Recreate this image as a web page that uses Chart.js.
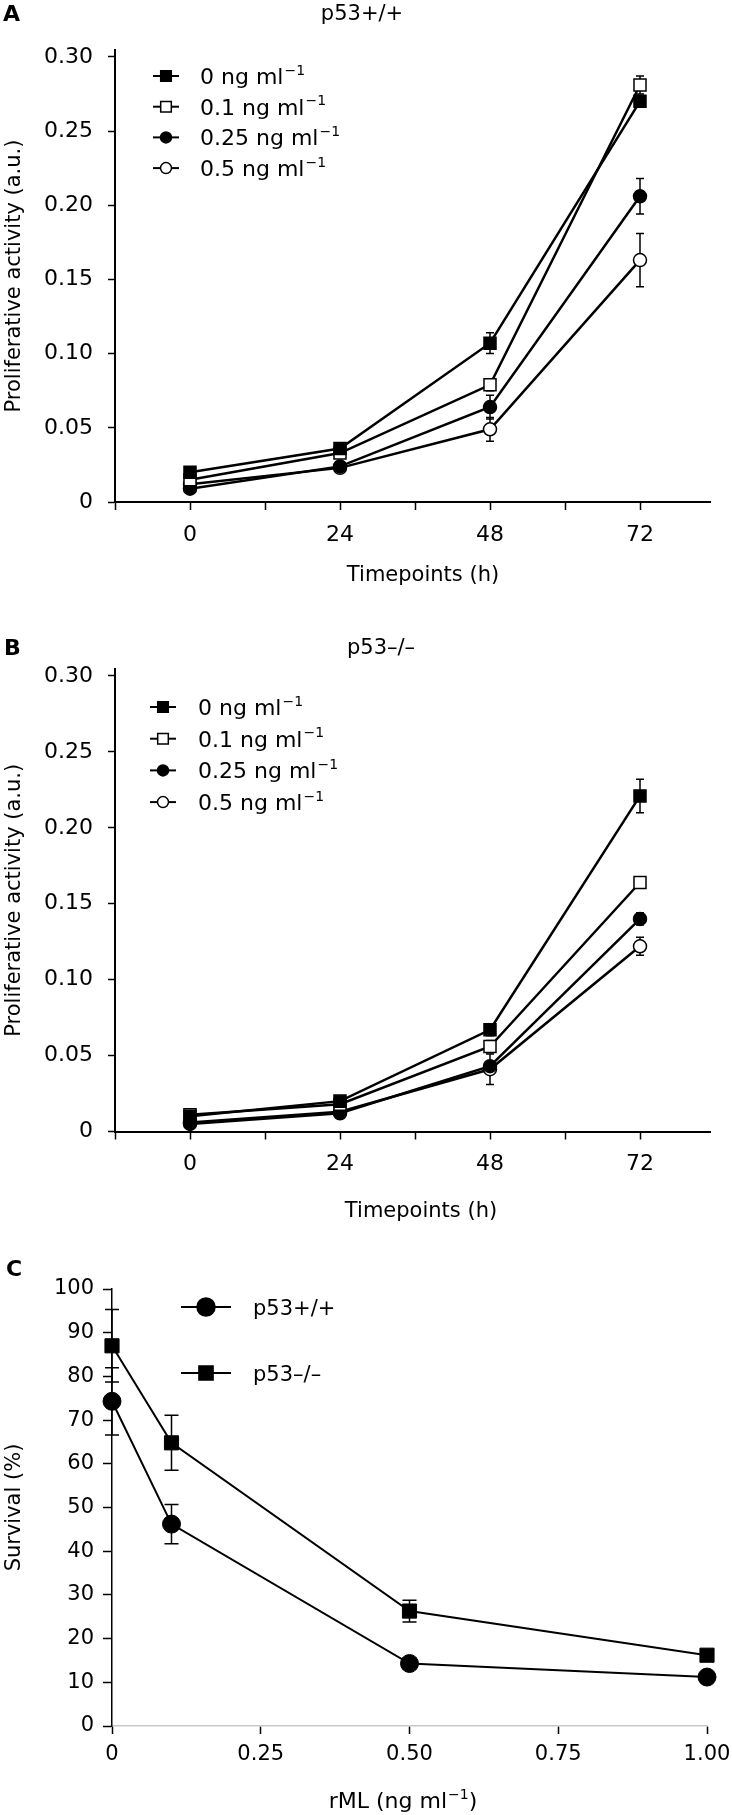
<!DOCTYPE html>
<html>
<head>
<meta charset="utf-8">
<script src="https://cdn.jsdelivr.net/npm/chart.js@4.4.1/dist/chart.umd.min.js"></script>
<style>
  html, body { margin: 0; padding: 0; background: #fff; }
  body { width: 732px; height: 1815px; position: relative; overflow: hidden; }
  canvas { position: absolute; left: 0; }
</style>
</head>
<body>
<canvas id="chartA" width="732" height="600" style="top:0px"></canvas>
<canvas id="chartB" width="732" height="640" style="top:600px"></canvas>
<canvas id="chartC" width="732" height="575" style="top:1240px"></canvas>
<script>
const FONT = "'DejaVu Sans', 'Liberation Sans', Arial, sans-serif";

// ---- panels A and B: proliferation over time ----
const timepoints = [0, 24, 48, 72];
const timeTicks = [-12, 0, 12, 24, 36, 48, 60, 72];
const timeLabels = [0, 24, 48, 72];
const doses = ['0', '0.1', '0.25', '0.5'];
const activityTicks = [0, 0.05, 0.1, 0.15, 0.2, 0.25, 0.3];
const activityLabels = ['0', '0.05', '0.10', '0.15', '0.20', '0.25', '0.30'];

// p53+/+
const wtDose0 = [0.020, 0.036, 0.107, 0.270];
const wtDose01 = [0.015, 0.033, 0.079, 0.281];
const wtDose025 = [0.009, 0.024, 0.064, 0.206];
const wtDose05 = [0.012, 0.023, 0.049, 0.163];
const wtErr0 = [0.002, 0.002, 0.007, 0.004];
const wtErr01 = [0.002, 0.002, 0.004, 0.006];
const wtErr025 = [0.001, 0.002, 0.008, 0.012];
const wtErr05 = [0.002, 0.002, 0.008, 0.018];

// p53-/-
const nullDose0 = [0.010, 0.020, 0.067, 0.221];
const nullDose01 = [0.011, 0.018, 0.056, 0.164];
const nullDose025 = [0.005, 0.012, 0.043, 0.140];
const nullDose05 = [0.006, 0.013, 0.041, 0.122];
const nullErr0 = [0.001, 0.002, 0.004, 0.011];
const nullErr01 = [0.001, 0.001, 0.004, 0.003];
const nullErr025 = [0.001, 0.001, 0.003, 0.004];
const nullErr05 = [0.001, 0.002, 0.010, 0.006];

// ---- panel C: survival vs rML ----
const rmlDoses = [0, 0.1, 0.5, 1.0];
const rmlTicks = [0, 0.25, 0.5, 0.75, 1.0];
const rmlLabels = ['0', '0.25', '0.50', '0.75', '1.00'];
const survivalTicks = [0, 10, 20, 30, 40, 50, 60, 70, 80, 90, 100];
const survivalWt = [74.3, 46.2, 14.3, 11.2];
const survivalWtErr = [7.7, 4.5, 1.2, 1.0];
const survivalNull = [87.0, 64.8, 26.3, 16.2];
const survivalNullErr = [8.3, 6.3, 2.5, 1.2];

const markerStyle = ['rect', 'rect', 'circle', 'circle'];
const markerFill = ['#000', '#fff', '#000', '#fff'];

function drawMarker(ctx, style, x, y, r, fill) {
  ctx.beginPath();
  if (style === 'rect') {
    const s = r * Math.SQRT1_2;
    ctx.rect(x - s, y - s, 2 * s, 2 * s);
  } else {
    ctx.arc(x, y, r, 0, Math.PI * 2);
  }
  ctx.fillStyle = fill;
  ctx.fill();
  ctx.lineWidth = 1.5;
  ctx.strokeStyle = '#000';
  ctx.stroke();
}

// text with an optional superscript (and text after it), left aligned at x or centred on x
function richText(ctx, text, sup, after, x, y, size, centre) {
  const supSize = Math.round(size * 0.64);
  ctx.font = size + 'px ' + FONT;
  const w = ctx.measureText(text).width;
  const aw = after ? ctx.measureText(after).width : 0;
  let sw = 0;
  if (sup) {
    ctx.font = supSize + 'px ' + FONT;
    sw = ctx.measureText(sup).width + 1;
  }
  const x0 = centre ? x - (w + sw + aw) / 2 : x;
  const base = y + size * 0.36;
  ctx.textAlign = 'left';
  ctx.textBaseline = 'alphabetic';
  ctx.fillStyle = '#000';
  ctx.font = size + 'px ' + FONT;
  ctx.fillText(text, x0, base);
  if (after) ctx.fillText(after, x0 + w + sw, base);
  if (sup) {
    ctx.font = supSize + 'px ' + FONT;
    ctx.fillText(sup, x0 + w + 1, base - size * 0.42);
  }
}

const figureDecor = {
  id: 'figureDecor',
  beforeDatasetsDraw(chart, args, o) {
    const ctx = chart.ctx;
    const yScale = chart.scales.y;
    ctx.save();
    ctx.strokeStyle = '#000';
    ctx.lineWidth = 1.5;
    chart.data.datasets.forEach((ds, i) => {
      const meta = chart.getDatasetMeta(i);
      ds.errors.forEach((e, j) => {
        const v = ds.data[j].y;
        const px = meta.data[j].x;
        const top = yScale.getPixelForValue(v + e);
        const bot = yScale.getPixelForValue(v - e);
        ctx.beginPath();
        ctx.moveTo(px, top); ctx.lineTo(px, bot);
        ctx.moveTo(px - o.cap, top); ctx.lineTo(px + o.cap, top);
        ctx.moveTo(px - o.cap, bot); ctx.lineTo(px + o.cap, bot);
        ctx.stroke();
      });
    });
    ctx.restore();
  },
  afterDraw(chart, args, o) {
    const ctx = chart.ctx;
    ctx.save();
    ctx.fillStyle = '#000';
    ctx.font = 'bold 22px ' + FONT;
    ctx.textAlign = 'left';
    ctx.textBaseline = 'middle';
    ctx.fillText(o.letter, o.letterX, o.letterY);
    if (o.title) {
      ctx.font = '21px ' + FONT;
      ctx.textAlign = 'center';
      ctx.fillText(o.title, o.titleX, o.titleY);
    }
    richText(ctx, o.xTitle, o.xTitleSup, o.xTitleAfter, o.xTitleX, o.xTitleY, o.xTitleSize, true);

    const lg = o.legend;
    chart.data.datasets.forEach((ds, i) => {
      const y = lg.y0 + i * lg.dy;
      ctx.beginPath();
      ctx.moveTo(lg.x - lg.half, y);
      ctx.lineTo(lg.x + lg.half, y);
      ctx.lineWidth = 2;
      ctx.strokeStyle = '#000';
      ctx.stroke();
      const r = ds.pointStyle === 'rect' ? lg.rect : lg.circle;
      drawMarker(ctx, ds.pointStyle, lg.x, y, r, ds.pointBackgroundColor);
      richText(ctx, ds.label, lg.sup, '', lg.textX, y, lg.size, false);
    });
    ctx.restore();
  }
};

function doseSets(values, errors) {
  return values.map((vals, i) => ({
    label: doses[i] + ' ng ml',
    data: vals.map((v, j) => ({ x: timepoints[j], y: v })),
    errors: errors[i],
    borderColor: '#000',
    borderWidth: 2.5,
    pointStyle: markerStyle[i],
    pointRadius: markerStyle[i] === 'rect' ? 8.5 : 6.5,
    pointBackgroundColor: markerFill[i],
    pointBorderColor: '#000',
    pointBorderWidth: 1.5,
    clip: false,
    tension: 0
  }));
}

function fixedBox(size, horizontal) {
  return function (s) {
    if (horizontal) s.height = size; else s.width = size;
    s.paddingTop = 0; s.paddingBottom = 0; s.paddingLeft = 0; s.paddingRight = 0;
  };
}

function timeAxis(height) {
  return {
    type: 'linear', min: -12, max: 83.2,
    afterBuildTicks: s => { s.ticks = timeTicks.map(v => ({ value: v })); },
    afterFit: fixedBox(height, true),
    ticks: {
      autoSkip: false, maxRotation: 0, padding: 12, color: '#000',
      font: { family: FONT, size: 22 },
      callback: v => timeLabels.includes(v) ? String(v) : ''
    },
    grid: { drawOnChartArea: false, drawTicks: true, tickLength: 8, tickColor: '#000', tickWidth: 1.5 },
    border: { display: true, color: '#000', width: 2 }
  };
}

function activityAxis() {
  return {
    type: 'linear', min: 0, max: 0.3046,
    afterBuildTicks: s => { s.ticks = activityTicks.map(v => ({ value: v })); },
    afterFit: fixedBox(115, false),
    ticks: {
      autoSkip: false, padding: 15, color: '#000',
      font: { family: FONT, size: 22 },
      callback: (v, i) => activityLabels[i]
    },
    grid: { drawOnChartArea: false, drawTicks: true, tickLength: 7, tickColor: '#000', tickWidth: 1.5 },
    border: { display: true, color: '#000', width: 2 },
    title: {
      display: true, text: 'Proliferative activity (a.u.)', color: '#000',
      font: { family: FONT, size: 21 }, padding: { top: 1.5, bottom: 0 }
    }
  };
}

function timeChart(id, datasets, padTop, xHeight, decor) {
  return new Chart(document.getElementById(id), {
    type: 'line',
    data: { datasets: datasets },
    options: {
      responsive: false,
      animation: false,
      events: [],
      layout: { padding: { top: padTop, left: 0, right: 22, bottom: 0 } },
      scales: { x: timeAxis(xHeight), y: activityAxis() },
      plugins: { legend: { display: false }, tooltip: { enabled: false }, figureDecor: decor }
    },
    plugins: [figureDecor]
  });
}

timeChart('chartA',
  doseSets([wtDose0, wtDose01, wtDose025, wtDose05], [wtErr0, wtErr01, wtErr025, wtErr05]),
  50, 98,
  {
    cap: 4, letter: 'A', letterX: 3, letterY: 15, title: 'p53+/+', titleX: 362, titleY: 15,
    xTitle: 'Timepoints (h)', xTitleSup: '', xTitleAfter: '', xTitleX: 423, xTitleY: 573, xTitleSize: 21,
    legend: { x: 166, half: 13, textX: 200, y0: 76, dy: 30.7, rect: 7.5, circle: 5.5, size: 22, sup: '\u22121' }
  });

timeChart('chartB',
  doseSets([nullDose0, nullDose01, nullDose025, nullDose05], [nullErr0, nullErr01, nullErr025, nullErr05]),
  69, 108.5,
  {
    cap: 4, letter: 'B', letterX: 4, letterY: 49, title: 'p53\u2013/\u2013', titleX: 381, titleY: 49,
    xTitle: 'Timepoints (h)', xTitleSup: '', xTitleAfter: '', xTitleX: 421, xTitleY: 609, xTitleSize: 21,
    legend: { x: 163, half: 13, textX: 198, y0: 107, dy: 31.7, rect: 7.5, circle: 5.5, size: 22, sup: '\u22121' }
  });

new Chart(document.getElementById('chartC'), {
  type: 'line',
  data: {
    datasets: [
      {
        label: 'p53+/+',
        data: survivalWt.map((v, j) => ({ x: rmlDoses[j], y: v })),
        errors: survivalWtErr,
        borderColor: '#000', borderWidth: 2,
        pointStyle: 'circle', pointRadius: 9,
        pointBackgroundColor: '#000', pointBorderColor: '#000', pointBorderWidth: 1,
        clip: false, tension: 0
      },
      {
        label: 'p53\u2013/\u2013',
        data: survivalNull.map((v, j) => ({ x: rmlDoses[j], y: v })),
        errors: survivalNullErr,
        borderColor: '#000', borderWidth: 2,
        pointStyle: 'rect', pointRadius: 10,
        pointBackgroundColor: '#000', pointBorderColor: '#000', pointBorderWidth: 1,
        clip: false, tension: 0
      }
    ]
  },
  options: {
    responsive: false,
    animation: false,
    events: [],
    layout: { padding: { top: 49, left: 0, right: 25, bottom: 0 } },
    scales: {
      x: {
        type: 'linear', min: 0, max: 1,
        afterBuildTicks: s => { s.ticks = rmlTicks.map(v => ({ value: v })); },
        afterFit: fixedBox(89, true),
        ticks: {
          autoSkip: false, maxRotation: 0, padding: 8, color: '#000',
          font: { family: FONT, size: 21 },
          callback: (v, i) => rmlLabels[i]
        },
        grid: { drawOnChartArea: false, drawTicks: true, tickLength: 8, tickColor: '#000', tickWidth: 1.5 },
        border: { display: true, color: '#c8c8c8', width: 1.5 }
      },
      y: {
        type: 'linear', min: 0, max: 100,
        afterBuildTicks: s => { s.ticks = survivalTicks.map(v => ({ value: v })); },
        afterFit: fixedBox(112, false),
        ticks: {
          autoSkip: false, padding: 9, color: '#000',
          font: { family: FONT, size: 21 },
          callback: v => String(v)
        },
        grid: { drawOnChartArea: false, drawTicks: true, tickLength: 9, tickColor: '#000', tickWidth: 1.5 },
        border: { display: true, color: '#000', width: 1.5 },
        title: {
          display: true, text: 'Survival (%)', color: '#000',
          font: { family: FONT, size: 21 }, padding: { top: 1.5, bottom: 0 }
        }
      }
    },
    plugins: {
      legend: { display: false },
      tooltip: { enabled: false },
      figureDecor: {
        cap: 7, letter: 'C', letterX: 6, letterY: 30, title: '',
        xTitle: 'rML (ng ml', xTitleSup: '\u22121', xTitleAfter: ')', xTitleX: 403, xTitleY: 560, xTitleSize: 22,
        legend: { x: 206, half: 25, textX: 253, y0: 67, dy: 66, rect: 10, circle: 9, size: 21, sup: '' }
      }
    }
  },
  plugins: [figureDecor]
});
</script>
</body>
</html>
